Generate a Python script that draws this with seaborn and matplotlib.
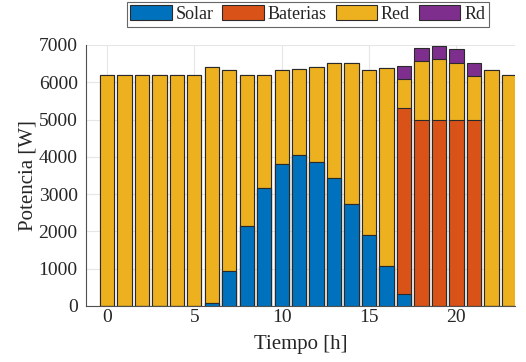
import numpy as np
import pandas as pd
import matplotlib
matplotlib.use("Agg")
import matplotlib.pyplot as plt
from matplotlib.patches import Patch
import seaborn as sns

# Hourly power supply by source [W]
hours = list(range(24))
solar = [0, 0, 0, 0, 0, 0, 80, 950, 2150, 3160, 3810, 4040,
         3870, 3420, 2730, 1900, 1070, 320, 0, 0, 0, 0, 0, 0]
baterias = [0, 0, 0, 0, 0, 0, 0, 0, 0, 0, 0, 0,
            0, 0, 0, 0, 0, 5000, 5000, 5000, 5000, 5000, 0, 0]
red = [6200, 6200, 6200, 6200, 6200, 6200, 6320, 5380, 4050, 3040, 2520, 2320,
       2550, 3110, 3800, 4440, 5300, 780, 1560, 1630, 1530, 1180, 6330, 6200]
rd = [0, 0, 0, 0, 0, 0, 0, 0, 0, 0, 0, 0,
      0, 0, 0, 0, 0, 350, 350, 350, 350, 350, 0, 0]

series_names = ["Solar", "Baterias", "Red", "Rd"]
series_colors = ["#0072BD", "#D95319", "#EDB120", "#7E2F8E"]

df = pd.DataFrame({"hora": hours, "Solar": solar, "Baterias": baterias,
                   "Red": red, "Rd": rd})
stack = df[series_names].cumsum(axis=1)

sns.set_theme(style="whitegrid")
plt.rcParams["font.family"] = ["Liberation Serif", "DejaVu Serif"]

fig = plt.figure(figsize=(5.26, 3.62), dpi=100)
ax = fig.add_axes([0.1635, 0.1547, 0.8155, 0.721])

# draw cumulative totals from the top segment down so each layer shows
for name, color in reversed(list(zip(series_names, series_colors))):
    sns.barplot(x=df["hora"], y=stack[name], native_scale=True, width=0.82,
                color=color, edgecolor="#2a2a2a", linewidth=0.8,
                saturation=1, ax=ax, zorder=3)

ax.set_xlim(-1.2, 23.35)
ax.set_ylim(0, 7000)
ax.set_xticks([0, 5, 10, 15, 20])
ax.set_yticks(np.arange(0, 7001, 1000))
ax.set_xticklabels(["0", "5", "10", "15", "20"])
ax.set_yticklabels([str(v) for v in range(0, 7001, 1000)])

ax.grid(True, color="#e6e6e6", linewidth=0.8, zorder=0)
ax.set_axisbelow(True)
for side in ["top", "right"]:
    ax.spines[side].set_visible(False)
for side in ["left", "bottom"]:
    ax.spines[side].set_color("#505050")
    ax.spines[side].set_linewidth(0.8)

ax.tick_params(axis="both", direction="in", length=4, width=0.8,
               colors="#505050", labelcolor="#262626", labelsize=14)
ax.tick_params(axis="x", pad=2)
ax.tick_params(axis="y", pad=6)
ax.set_xlabel("Tiempo [h]", fontsize=15, color="#262626", labelpad=7)
ax.set_ylabel("Potencia [W]", fontsize=15, color="#262626", labelpad=1)

handles = [Patch(facecolor=c, edgecolor="#2a2a2a", linewidth=0.8, label=n)
           for n, c in zip(series_names, series_colors)]
leg = fig.legend(handles=handles, loc="center", bbox_to_anchor=(0.585, 0.961),
                 ncol=4, fontsize=13, frameon=True, fancybox=False,
                 edgecolor="#404040", handlelength=2.3, handleheight=0.9,
                 handletextpad=0.2, columnspacing=0.5, borderpad=0.2,
                 borderaxespad=0)
leg.get_frame().set_linewidth(0.8)

fig.savefig("out.png", dpi=100)
